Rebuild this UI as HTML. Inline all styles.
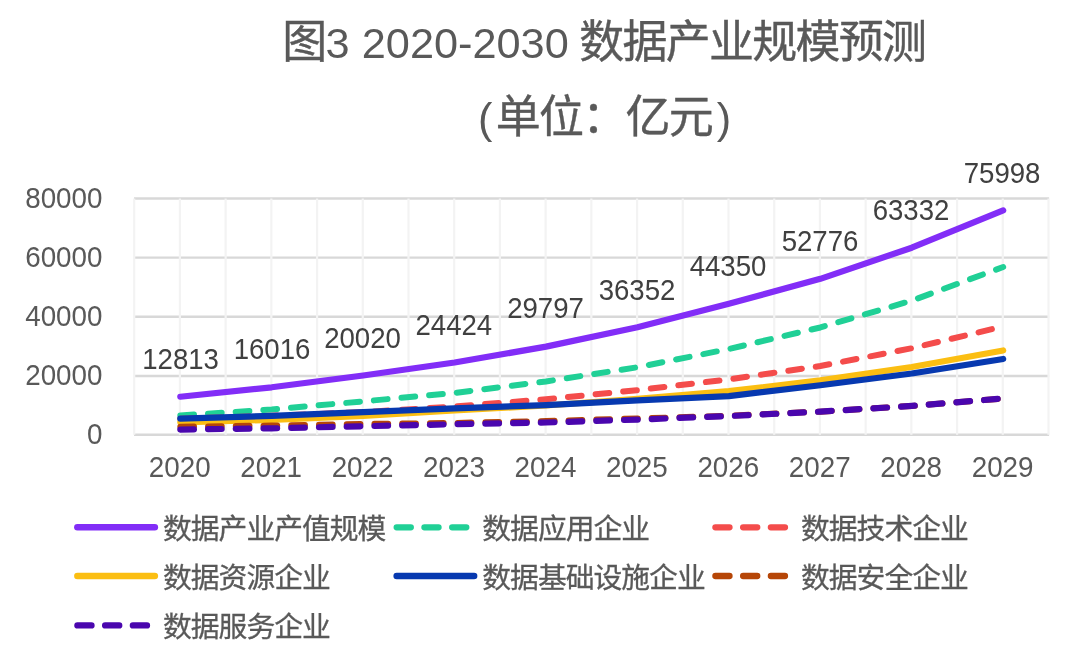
<!DOCTYPE html>
<html lang="zh-CN">
<head>
<meta charset="utf-8">
<title>图3 2020-2030 数据产业规模预测</title>
<style>
html,body{margin:0;padding:0;background:#fff;}
body{width:1080px;height:653px;overflow:hidden;}
svg{display:block;}
text{font-family:"Liberation Sans", "Noto Sans CJK SC", sans-serif;}
.title{font-size:43.3px;fill:#595959;text-anchor:middle;}
.ax{font-size:27.8px;fill:#595959;}
.dl{font-size:27.6px;fill:#404040;text-anchor:middle;}
.lg{font-size:28.8px;letter-spacing:-1.0px;fill:#595959;stroke:#595959;stroke-width:0.3px;}
.c{font-size:45.0px;letter-spacing:-1.75px;stroke:#595959;stroke-width:0.4px;}
</style>
</head>
<body>
<svg width="1080" height="653" viewBox="0 0 1080 653">
<rect width="1080" height="653" fill="#ffffff"/>
<text class="title" x="603.8" y="58"><tspan class="c">图</tspan>3 2020-2030 <tspan class="c" dx="-1.6">数据产业规模预测</tspan></text>
<text class="title" x="608.0" y="132.5"><tspan dx="-3.5">(</tspan><tspan class="c" dx="3.5">单位：亿元</tspan><tspan dx="4.6">)</tspan></text>
<g fill="none">
<line x1="134.00" y1="434.80" x2="1049.10" y2="434.80" stroke="#D8D8D8" stroke-width="2.4"/>
<line x1="134.00" y1="376.00" x2="1049.10" y2="376.00" stroke="#D8D8D8" stroke-width="2.4"/>
<line x1="134.00" y1="316.68" x2="1049.10" y2="316.68" stroke="#D8D8D8" stroke-width="2.4"/>
<line x1="134.00" y1="257.60" x2="1049.10" y2="257.60" stroke="#D8D8D8" stroke-width="2.4"/>
<line x1="134.00" y1="198.55" x2="1049.10" y2="198.55" stroke="#D8D8D8" stroke-width="2.4"/>
<line x1="134.20" y1="198.55" x2="134.20" y2="434.80" stroke="#F3F3F3" stroke-width="2.2"/>
<line x1="179.91" y1="198.55" x2="179.91" y2="434.80" stroke="#F3F3F3" stroke-width="2.2"/>
<line x1="225.63" y1="198.55" x2="225.63" y2="434.80" stroke="#F3F3F3" stroke-width="2.2"/>
<line x1="271.34" y1="198.55" x2="271.34" y2="434.80" stroke="#F3F3F3" stroke-width="2.2"/>
<line x1="317.06" y1="198.55" x2="317.06" y2="434.80" stroke="#F3F3F3" stroke-width="2.2"/>
<line x1="362.77" y1="198.55" x2="362.77" y2="434.80" stroke="#F3F3F3" stroke-width="2.2"/>
<line x1="408.49" y1="198.55" x2="408.49" y2="434.80" stroke="#F3F3F3" stroke-width="2.2"/>
<line x1="454.20" y1="198.55" x2="454.20" y2="434.80" stroke="#F3F3F3" stroke-width="2.2"/>
<line x1="499.92" y1="198.55" x2="499.92" y2="434.80" stroke="#F3F3F3" stroke-width="2.2"/>
<line x1="545.63" y1="198.55" x2="545.63" y2="434.80" stroke="#F3F3F3" stroke-width="2.2"/>
<line x1="591.35" y1="198.55" x2="591.35" y2="434.80" stroke="#F3F3F3" stroke-width="2.2"/>
<line x1="637.06" y1="198.55" x2="637.06" y2="434.80" stroke="#F3F3F3" stroke-width="2.2"/>
<line x1="682.78" y1="198.55" x2="682.78" y2="434.80" stroke="#F3F3F3" stroke-width="2.2"/>
<line x1="728.49" y1="198.55" x2="728.49" y2="434.80" stroke="#F3F3F3" stroke-width="2.2"/>
<line x1="774.21" y1="198.55" x2="774.21" y2="434.80" stroke="#F3F3F3" stroke-width="2.2"/>
<line x1="819.92" y1="198.55" x2="819.92" y2="434.80" stroke="#F3F3F3" stroke-width="2.2"/>
<line x1="865.64" y1="198.55" x2="865.64" y2="434.80" stroke="#F3F3F3" stroke-width="2.2"/>
<line x1="911.36" y1="198.55" x2="911.36" y2="434.80" stroke="#F3F3F3" stroke-width="2.2"/>
<line x1="957.07" y1="198.55" x2="957.07" y2="434.80" stroke="#F3F3F3" stroke-width="2.2"/>
<line x1="1002.78" y1="198.55" x2="1002.78" y2="434.80" stroke="#F3F3F3" stroke-width="2.2"/>
<line x1="1048.50" y1="198.55" x2="1048.50" y2="434.80" stroke="#F3F3F3" stroke-width="2.2"/>
</g>
<text class="ax" transform="translate(102.5,444.10) scale(1,1.035)" text-anchor="end">0</text>
<text class="ax" transform="translate(102.5,385.30) scale(1,1.035)" text-anchor="end">20000</text>
<text class="ax" transform="translate(102.5,325.98) scale(1,1.035)" text-anchor="end">40000</text>
<text class="ax" transform="translate(102.5,266.90) scale(1,1.035)" text-anchor="end">60000</text>
<text class="ax" transform="translate(102.5,207.85) scale(1,1.035)" text-anchor="end">80000</text>
<text class="ax" transform="translate(179.72,476.5) scale(1,1.035)" text-anchor="middle">2020</text>
<text class="ax" transform="translate(271.14,476.5) scale(1,1.035)" text-anchor="middle">2021</text>
<text class="ax" transform="translate(362.57,476.5) scale(1,1.035)" text-anchor="middle">2022</text>
<text class="ax" transform="translate(454.00,476.5) scale(1,1.035)" text-anchor="middle">2023</text>
<text class="ax" transform="translate(545.43,476.5) scale(1,1.035)" text-anchor="middle">2024</text>
<text class="ax" transform="translate(636.86,476.5) scale(1,1.035)" text-anchor="middle">2025</text>
<text class="ax" transform="translate(728.29,476.5) scale(1,1.035)" text-anchor="middle">2026</text>
<text class="ax" transform="translate(819.72,476.5) scale(1,1.035)" text-anchor="middle">2027</text>
<text class="ax" transform="translate(911.15,476.5) scale(1,1.035)" text-anchor="middle">2028</text>
<text class="ax" transform="translate(1002.58,476.5) scale(1,1.035)" text-anchor="middle">2029</text>
<g fill="none" stroke-linecap="round" stroke-linejoin="round">
<path d="M180.31,396.75 L271.74,387.30 L363.17,375.49 L454.60,362.50 L546.03,346.65 L637.46,327.31 L728.89,303.72 L820.32,278.86 L911.75,247.72 L1003.18,210.36" stroke="#822DF7" stroke-width="6.2"/>
<path d="M180.31,415.43 L271.74,409.56 L363.17,401.36 L454.60,392.96 L546.03,381.45 L637.46,367.23 L728.89,349.00 L820.32,327.47 L911.75,300.62 L1003.18,266.99" stroke="#20D096" stroke-width="6.0" stroke-dasharray="13.7 14.04"/>
<path d="M180.31,418.71 L271.74,415.80 L363.17,412.13 L454.60,406.53 L546.03,399.22 L637.46,390.15 L728.89,379.36 L820.32,366.04 L911.75,348.26 L1003.18,326.46" stroke="#F44C4B" stroke-width="6.0" stroke-dasharray="13.7 14.04"/>
<path d="M180.31,422.29 L271.74,419.79 L363.17,415.88 L454.60,410.42 L546.03,405.49 L637.46,398.90 L728.89,391.19 L820.32,380.31 L911.75,367.04 L1003.18,350.45" stroke="#FBBE12" stroke-width="6.2"/>
<path d="M180.31,418.71 L271.74,415.80 L363.17,412.19 L454.60,408.43 L546.03,405.04 L637.46,400.39 L728.89,396.11 L820.32,385.29 L911.75,373.49 L1003.18,358.97" stroke="#0739B0" stroke-width="6.2"/>
<path d="M180.31,426.72 L271.74,425.60 L363.17,423.97 L454.60,422.94 L546.03,421.02 L637.46,418.47 L728.89,415.73 L820.32,411.63 L911.75,405.94 L1003.18,398.47" stroke="#B64607" stroke-width="6.0" stroke-dasharray="13.7 14.04"/>
<path d="M180.31,429.54 L271.74,428.36 L363.17,426.22 L454.60,424.28 L546.03,422.51 L637.46,419.58 L728.89,416.05 L820.32,411.63 L911.75,405.94 L1003.18,398.47" stroke="#4A06AE" stroke-width="6.2" stroke-dasharray="13.6 14.14"/>
</g>
<text class="dl" transform="translate(180.6,369.1) scale(1,1.04)">12813</text>
<text class="dl" transform="translate(272,359.1) scale(1,1.04)">16016</text>
<text class="dl" transform="translate(362.5,348.1) scale(1,1.04)">20020</text>
<text class="dl" transform="translate(453.8,334.6) scale(1,1.04)">24424</text>
<text class="dl" transform="translate(545.5,318.1) scale(1,1.04)">29797</text>
<text class="dl" transform="translate(637,300.1) scale(1,1.04)">36352</text>
<text class="dl" transform="translate(728,276.4) scale(1,1.04)">44350</text>
<text class="dl" transform="translate(820,251.1) scale(1,1.04)">52776</text>
<text class="dl" transform="translate(911,220.1) scale(1,1.04)">63332</text>
<text class="dl" transform="translate(1002.1,182.6) scale(1,1.04)">75998</text>
<g fill="none" stroke-linecap="round">
<line x1="77.40" y1="527.3" x2="154.80" y2="527.3" stroke="#822DF7" stroke-width="6.6"/>
<line x1="396.70" y1="527.3" x2="474.10" y2="527.3" stroke="#20D096" stroke-width="6.3" stroke-dasharray="14.1 13.64"/>
<line x1="715.40" y1="527.3" x2="792.80" y2="527.3" stroke="#F44C4B" stroke-width="6.3" stroke-dasharray="14.1 13.64"/>
<line x1="77.40" y1="576.0" x2="154.80" y2="576.0" stroke="#FBBE12" stroke-width="6.6"/>
<line x1="396.70" y1="576.0" x2="474.10" y2="576.0" stroke="#0739B0" stroke-width="6.6"/>
<line x1="715.40" y1="576.0" x2="792.80" y2="576.0" stroke="#B64607" stroke-width="6.3" stroke-dasharray="14.1 13.64"/>
<line x1="77.40" y1="625.4" x2="154.80" y2="625.4" stroke="#4A06AE" stroke-width="6.3" stroke-dasharray="14.1 13.64"/>
</g>
<text class="lg" x="163.0" y="539.10">数据产业产值规模</text>
<text class="lg" x="482.3" y="539.10">数据应用企业</text>
<text class="lg" x="801.0" y="539.10">数据技术企业</text>
<text class="lg" x="163.0" y="587.80">数据资源企业</text>
<text class="lg" x="482.3" y="587.80">数据基础设施企业</text>
<text class="lg" x="801.0" y="587.80">数据安全企业</text>
<text class="lg" x="163.0" y="637.20">数据服务企业</text>
</svg>
</body>
</html>
